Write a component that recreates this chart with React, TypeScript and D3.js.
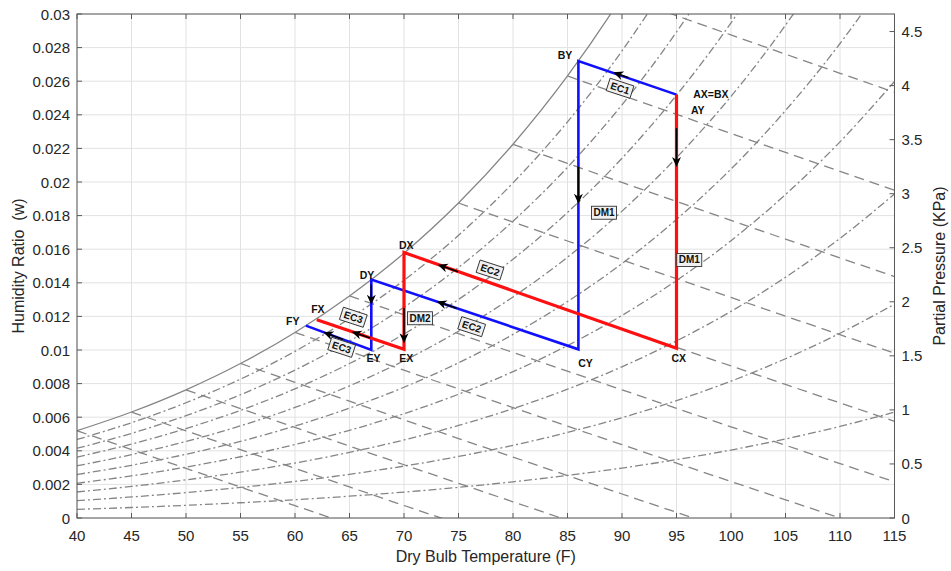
import * as d3 from 'd3'

// psychrometric background: saturation pressure table (kPa) at 5 F steps
const P_ATM = 101.325
const tempsF = [40, 45, 50, 55, 60, 65, 70, 75, 80, 85, 90, 95, 100, 105, 110, 115]
const satPressureKPa = [
  0.8392, 1.0174, 1.2282, 1.4764, 1.7677, 2.1086, 2.5041, 2.9651, 3.4986, 4.1121, 4.8177,
  5.6291, 6.5488, 7.606, 8.802, 10.158,
]
const rhLevels = [0.1, 0.2, 0.3, 0.4, 0.5, 0.6, 0.7, 0.8, 0.9]
const enthalpyStartF = [40, 45, 50, 55, 60, 65, 70, 75, 80, 85, 90]

// axis ticks
const xTicks = [40, 45, 50, 55, 60, 65, 70, 75, 80, 85, 90, 95, 100, 105, 110, 115]
const wTicks = [0, 0.002, 0.004, 0.006, 0.008, 0.01, 0.012, 0.014, 0.016, 0.018, 0.02, 0.022, 0.024, 0.026, 0.028, 0.03]
const pTicks = [0, 0.5, 1, 1.5, 2, 2.5, 3, 3.5, 4, 4.5]

// process paths (dry bulb F, humidity ratio)
const redT = [95, 95, 70, 70, 62]
const redW = [0.0252, 0.0101, 0.0158, 0.01004, 0.0118]
const blueT = [95, 86, 86, 67, 67, 61]
const blueW = [0.0252, 0.0272, 0.01004, 0.0142, 0.0100, 0.01145]

// arrows: tail -> head
const arrows = [
  { t0: 90.6, w0: 0.0262, t1: 89.2, w1: 0.02653 },
  { t0: 95, w0: 0.0232, t1: 95, w1: 0.0209 },
  { t0: 86, w0: 0.0209, t1: 86, w1: 0.0187 },
  { t0: 74.95, w0: 0.01466, t1: 73.1, w1: 0.01508 },
  { t0: 74.83, w0: 0.01249, t1: 73.0, w1: 0.01289 },
  { t0: 67, w0: 0.0139, t1: 67, w1: 0.0127 },
  { t0: 70, w0: 0.0125, t1: 70, w1: 0.0104 },
  { t0: 66.9, w0: 0.01072, t1: 65.2, w1: 0.01108 },
  { t0: 64.4, w0: 0.01062, t1: 62.6, w1: 0.01106 },
]

// boxed step labels
const stepLabels = [
  { text: 'EC1', t: 89.82, w: 0.02558, angle: 18 },
  { text: 'DM1', t: 88.35, w: 0.01817, angle: 0 },
  { text: 'DM1', t: 96.17, w: 0.01536, angle: 0 },
  { text: 'EC2', t: 77.89, w: 0.01476, angle: 18 },
  { text: 'EC2', t: 76.21, w: 0.01139, angle: 18 },
  { text: 'DM2', t: 71.47, w: 0.01189, angle: 0 },
  { text: 'EC3', t: 65.35, w: 0.01195, angle: 18 },
  { text: 'EC3', t: 64.28, w: 0.01016, angle: 18 },
]

// state point names
const pointLabels = [
  { text: 'BY', t: 84.77, w: 0.02756 },
  { text: 'AX=BX', t: 98.15, w: 0.02523 },
  { text: 'AY', t: 96.95, w: 0.02430 },
  { text: 'CY', t: 86.65, w: 0.00925 },
  { text: 'CX', t: 95.2, w: 0.00951 },
  { text: 'DX', t: 70.2, w: 0.01625 },
  { text: 'DY', t: 66.6, w: 0.01446 },
  { text: 'EY', t: 67.2, w: 0.00954 },
  { text: 'EX', t: 70.2, w: 0.00954 },
  { text: 'FX', t: 62.1, w: 0.01244 },
  { text: 'FY', t: 59.8, w: 0.01173 },
]

const W = 951
const H = 571
const plot = { left: 77, right: 894.5, top: 14, bottom: 518 }
const FONT = 'Liberation Sans, Arial, Helvetica, sans-serif'

const fToC = (t: number) => (t - 32) / 1.8
const wFromP = (p: number) => (0.622 * p) / (P_ATM - p)
const pFromW = (w: number) => (w * P_ATM) / (0.622 + w)

export default function App() {
  const x = d3.scaleLinear().domain([40, 115]).range([plot.left, plot.right])
  const y = d3.scaleLinear().domain([0, 0.03]).range([plot.bottom, plot.top])
  const yP = d3.scaleLinear().domain([0, pFromW(0.03)]).range([plot.bottom, plot.top])

  const curve = d3
    .line<[number, number]>()
    .x(d => x(d[0]))
    .y(d => y(d[1]))
    .curve(d3.curveMonotoneX)
  const straight = d3
    .line<[number, number]>()
    .x(d => x(d[0]))
    .y(d => y(d[1]))

  const satPts = tempsF.map((t, i) => [t, wFromP(satPressureKPa[i])] as [number, number])
  const rhCurves = rhLevels.map(rh =>
    tempsF.map((t, i) => [t, wFromP(rh * satPressureKPa[i])] as [number, number])
  )
  const enthalpyLines = enthalpyStartF.map(t0 => {
    const i0 = tempsF.indexOf(t0)
    const tc0 = fToC(t0)
    const w0 = wFromP(satPressureKPa[i0])
    const h0 = 1.006 * tc0 + w0 * (2501 + 1.86 * tc0)
    return tempsF
      .filter(t => t >= t0)
      .map(t => {
        const tc = fToC(t)
        return [t, (h0 - 1.006 * tc) / (2501 + 1.86 * tc)] as [number, number]
      })
  })

  const redPts = redT.map((t, i) => [t, redW[i]] as [number, number])
  const bluePts = blueT.map((t, i) => [t, blueW[i]] as [number, number])

  const tickLen = 5
  const axisColor = '#5a5a5a'
  const textColor = '#262626'
  const gray = '#858585'

  return (
    <svg
      width={W}
      height={H}
      style={{ position: 'absolute', left: 0, top: 0, background: '#fff' }}
      fontFamily={FONT}
    >
      <defs>
        <clipPath id="plotClip">
          <rect x={plot.left} y={plot.top} width={plot.right - plot.left} height={plot.bottom - plot.top} />
        </clipPath>
      </defs>

      {/* grid */}
      <g stroke="#e2e2e2" strokeWidth={1}>
        {xTicks.map(t => (
          <line key={'gx' + t} x1={x(t)} x2={x(t)} y1={plot.top} y2={plot.bottom} />
        ))}
        {wTicks.map(t => (
          <line key={'gy' + t} x1={plot.left} x2={plot.right} y1={y(t)} y2={y(t)} />
        ))}
      </g>

      {/* psychrometric curves */}
      <g clipPath="url(#plotClip)" fill="none" stroke={gray} strokeWidth={1.3}>
        {rhCurves.map((c, i) => (
          <path key={'rh' + i} d={curve(c) ?? ''} strokeDasharray="8,3,2,3" />
        ))}
        {enthalpyLines.map((c, i) => (
          <path key={'h' + i} d={straight(c) ?? ''} strokeDasharray="10,6" />
        ))}
        <path d={curve(satPts) ?? ''} />
      </g>

      {/* process lines */}
      <path d={straight(bluePts) ?? ''} fill="none" stroke="#1010ff" strokeWidth={2.6} />
      <path d={straight(redPts) ?? ''} fill="none" stroke="#ff1010" strokeWidth={3.2} />

      {/* arrows */}
      <g>
        {arrows.map((a, i) => {
          const x0 = x(a.t0)
          const y0 = y(a.w0)
          const x1 = x(a.t1)
          const y1 = y(a.w1)
          const ang = Math.atan2(y1 - y0, x1 - x0)
          const L = 10
          const hw = 4.5
          const notch = 3
          const ux = Math.cos(ang)
          const uy = Math.sin(ang)
          const bx = x1 - ux * L
          const by = y1 - uy * L
          const head = [
            [x1, y1],
            [bx - uy * hw, by + ux * hw],
            [x1 - ux * (L - notch), y1 - uy * (L - notch)],
            [bx + uy * hw, by - ux * hw],
          ]
          return (
            <g key={'ar' + i}>
              <line x1={x0} y1={y0} x2={x1 - ux * 5} y2={y1 - uy * 5} stroke="#000" strokeWidth={1.6} />
              <path d={'M' + head.map(p => p.join(',')).join('L') + 'Z'} fill="#000" />
            </g>
          )
        })}
      </g>

      {/* boxed labels */}
      {stepLabels.map((l, i) => (
        <g key={'sl' + i} transform={`translate(${x(l.t)},${y(l.w)}) rotate(${l.angle})`}>
          <rect x={-12.5} y={-6.5} width={25} height={13} fill="#f0f0f0" stroke="#333" strokeWidth={0.9} />
          <text
            textAnchor="middle"
            dominantBaseline="central"
            fontSize={10}
            fontWeight="bold"
            fill="#111"
          >
            {l.text}
          </text>
        </g>
      ))}

      {/* point labels */}
      {pointLabels.map((l, i) => (
        <text
          key={'pl' + i}
          x={x(l.t)}
          y={y(l.w)}
          textAnchor="middle"
          dominantBaseline="central"
          fontSize={10.5}
          fontWeight="bold"
          fill="#111"
        >
          {l.text}
        </text>
      ))}

      {/* axes box */}
      <rect
        x={plot.left}
        y={plot.top}
        width={plot.right - plot.left}
        height={plot.bottom - plot.top}
        fill="none"
        stroke={axisColor}
        strokeWidth={1}
      />
      <g stroke={axisColor} strokeWidth={1}>
        {xTicks.map(t => (
          <g key={'tx' + t}>
            <line x1={x(t)} x2={x(t)} y1={plot.bottom} y2={plot.bottom - tickLen} />
            <line x1={x(t)} x2={x(t)} y1={plot.top} y2={plot.top + tickLen} />
          </g>
        ))}
        {wTicks.map(t => (
          <line key={'ty' + t} x1={plot.left} x2={plot.left + tickLen} y1={y(t)} y2={y(t)} />
        ))}
        {pTicks.map(t => (
          <line key={'tp' + t} x1={plot.right} x2={plot.right - tickLen} y1={yP(t)} y2={yP(t)} />
        ))}
      </g>

      {/* tick labels */}
      <g fontSize={15} fill={textColor}>
        {xTicks.map(t => (
          <text key={'lx' + t} x={x(t)} y={535} textAnchor="middle" dominantBaseline="central">
            {t}
          </text>
        ))}
        {wTicks.map(t => (
          <text key={'ly' + t} x={plot.left - 7} y={y(t)} textAnchor="end" dominantBaseline="central">
            {t}
          </text>
        ))}
        {pTicks.map(t => (
          <text key={'lp' + t} x={plot.right + 7} y={yP(t)} textAnchor="start" dominantBaseline="central">
            {t}
          </text>
        ))}
      </g>

      {/* axis titles */}
      <g fontSize={16} fill={textColor}>
        <text x={(plot.left + plot.right) / 2} y={556} textAnchor="middle" dominantBaseline="central">
          Dry Bulb Temperature (F)
        </text>
        <text
          transform={`translate(18,${(plot.top + plot.bottom) / 2}) rotate(-90)`}
          textAnchor="middle"
          dominantBaseline="central"
          style={{ whiteSpace: 'pre' }}
        >
          {'Humidity Ratio  (w)'}
        </text>
        <text
          transform={`translate(939,${(plot.top + plot.bottom) / 2}) rotate(-90)`}
          textAnchor="middle"
          dominantBaseline="central"
        >
          Partial Pressure (KPa)
        </text>
      </g>
    </svg>
  )
}
